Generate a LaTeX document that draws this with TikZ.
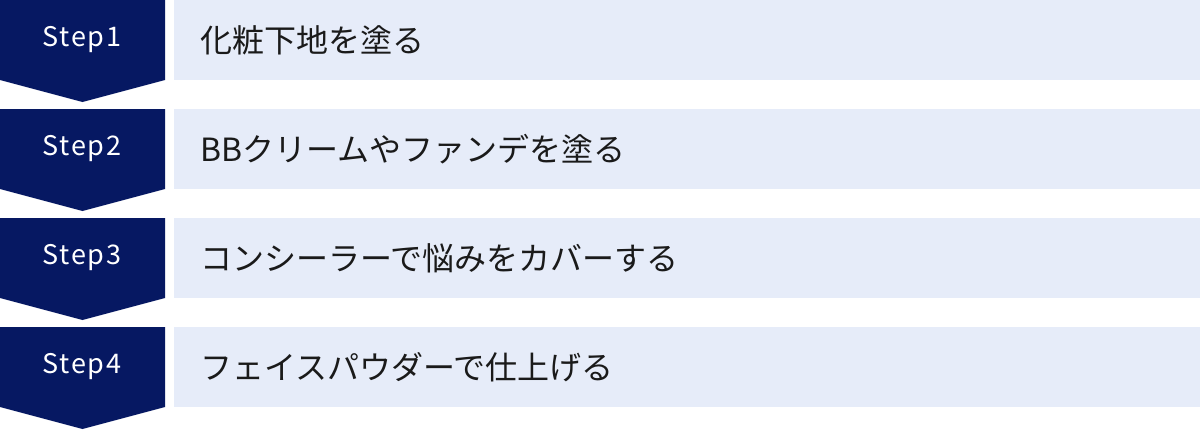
\documentclass[tikz,border=0pt]{standalone}
\usepackage{fontspec}
\setmainfont{Noto Sans CJK JP}
\newfontfamily\stepfont[LetterSpace=6]{Noto Sans CJK JP}
\definecolor{navy}{HTML}{061862}
\definecolor{paleblue}{HTML}{E6ECF9}
\definecolor{ink}{HTML}{1A1A1A}
\tikzset{
  chev/.style={fill=navy, draw=none},
  bar/.style={fill=paleblue, draw=none},
  steplabel/.style={text=white, font=\stepfont\fontsize{27}{27}\selectfont, inner sep=0pt, anchor=center},
  desc/.style={text=ink, font=\fontsize{32}{32}\selectfont, inner sep=0pt, anchor=west}
}
\begin{document}
\begin{tikzpicture}[x=1pt,y=-1pt]
\useasboundingbox (0,0) rectangle (1200,429);
\fill[white] (0,0) rectangle (1200,429);
\foreach \i/\top/\txt in {1/0/化粧下地を塗る,2/109/BBクリームやファンデを塗る,3/218/コンシーラーで悩みをカバーする,4/327/フェイスパウダーで仕上げる}{
  \path[chev] (0,\top) -- (165,\top) -- (165,\top+80) -- (82.5,\top+102) -- (0,\top+80) -- cycle;
  \path[bar] (174,\top) rectangle (1200,\top+80);
  \node[steplabel] (s\i) at (82,\top+40) {Step\i};
  \node[desc] (t\i) at (200,\top+40) {\txt};
}
\end{tikzpicture}
\end{document}
